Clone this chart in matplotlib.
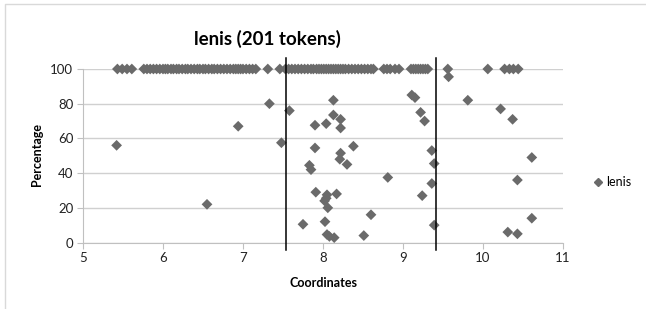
import matplotlib
matplotlib.use("Agg")
import matplotlib.pyplot as plt
from matplotlib.lines import Line2D

# ---- data ----
x_full = [5.43, 5.49, 5.55, 5.61,
          5.76, 5.80, 5.84, 5.88, 5.92, 5.96, 6.00, 6.03, 6.06, 6.10, 6.13, 6.17,
          6.20, 6.24, 6.28, 6.31, 6.35, 6.39, 6.43, 6.46, 6.50, 6.53, 6.57, 6.61,
          6.64, 6.68, 6.72, 6.76, 6.80, 6.84, 6.88, 6.91, 6.94, 6.97, 7.00, 7.04,
          7.08, 7.12, 7.16,
          7.31, 7.46,
          7.53, 7.57, 7.61, 7.65, 7.69, 7.73, 7.77, 7.81, 7.85, 7.88, 7.92, 7.95,
          7.98, 8.01, 8.04, 8.07, 8.10, 8.13, 8.16, 8.19, 8.22, 8.25, 8.28, 8.32,
          8.36, 8.40, 8.44, 8.48, 8.52, 8.56, 8.60, 8.63,
          8.76, 8.80, 8.84, 8.90, 8.95,
          9.10, 9.13, 9.16, 9.19, 9.22, 9.25, 9.28, 9.31,
          9.56, 10.06, 10.27, 10.33, 10.38, 10.44]
y_full = [100] * len(x_full)

x_part = [5.42, 6.55, 6.94, 7.33, 7.48, 7.58, 7.75, 7.83, 7.85, 7.90, 7.90, 7.91,
          8.02, 8.025, 8.04, 8.05, 8.04, 8.06, 8.05, 8.08, 8.13, 8.13, 8.14, 8.17,
          8.22, 8.22, 8.22, 8.21, 8.30, 8.38, 8.51, 8.60, 8.81, 9.11, 9.15, 9.22,
          9.27, 9.24, 9.36, 9.39, 9.36, 9.39, 9.57, 9.81, 10.22, 10.37, 10.61,
          10.43, 10.61, 10.31, 10.43]
y_part = [56, 22, 67, 80, 57.5, 76, 10.5, 44.5, 42, 67.6, 54.5, 29,
          24, 12, 68.5, 27.5, 25.5, 20, 4.6, 3.5, 82, 73.5, 2.8, 28,
          71, 66, 51.5, 48, 45, 55.5, 4, 16, 37.5, 85, 83.5, 75,
          70, 27, 53, 45.5, 34, 10, 95.5, 82, 77, 71, 49,
          36, 14, 6, 5]

boundaries = [7.54, 9.41]
x_ticks = [5, 6, 7, 8, 9, 10, 11]
y_ticks = [0, 20, 40, 60, 80, 100]
series_name = "lenis"
title = "lenis (201 tokens)"

FONT = ["Lato", "DejaVu Sans"]
plt.rcParams["font.family"] = FONT

W, H = 646, 309
fig = plt.figure(figsize=(W / 100, H / 100), dpi=100)
fig.patch.set_facecolor("white")

L, R, T, B = 83, 563, 69, 242.5
ax = fig.add_axes([L / W, 1 - B / H, (R - L) / W, (B - T) / H])

xs = x_full + x_part
ys = y_full + y_part
mcol = "#6a6a6a"
ax.scatter(xs, ys, marker="D", s=30, color=mcol, edgecolors="none", zorder=3, clip_on=False)

ax.set_xlim(5, 11)
ax.set_ylim(0, 100)
ax.set_xticks(x_ticks)
ax.set_yticks(y_ticks)
ax.set_xticklabels([str(v) for v in x_ticks])
ax.set_yticklabels([str(v) for v in y_ticks])
ax.yaxis.grid(True, color="#d0d0d0", linewidth=1)
ax.set_axisbelow(True)
for s in ["top", "right"]:
    ax.spines[s].set_visible(False)
ax.spines["left"].set_color("#c0c0c0")
ax.spines["bottom"].set_color("#c0c0c0")
ax.tick_params(axis="both", direction="out", length=4, color="#c0c0c0",
               labelsize=9.5, labelcolor="#222222", pad=3)

# vertical boundary lines extending beyond plot area
ylo = (B - 250) / ((B - T) / 100)
yhi = (B - 58) / ((B - T) / 100)
for bx in boundaries:
    ax.plot([bx, bx], [ylo, yhi], color="black", linewidth=1.1, clip_on=False, zorder=4)

fig.text(267 / W, 1 - 39 / H, title, ha="center", va="center",
         fontsize=13.5, fontweight="bold", color="#000000")
fig.text(323 / W, 1 - 283 / H, "Coordinates", ha="center", va="center",
         fontsize=9, fontweight="bold")
fig.text(37 / W, 1 - 155 / H, "Percentage", ha="center", va="center",
         fontsize=9, fontweight="bold", rotation=90)

# legend
fig.lines.append(Line2D([598 / W], [1 - 182 / H], marker="D", markersize=4.5,
                        color=mcol, linestyle="none", transform=fig.transFigure))
fig.text(606 / W, 1 - 182 / H, series_name, ha="left", va="center", fontsize=9)

# chart border
fig.lines.append(Line2D([5 / W, 5 / W, 1.0], [0.0, 1 - 4 / H, 1 - 4 / H],
                        color="#d9d9d9", linewidth=1, transform=fig.transFigure))

fig.savefig("out.png", dpi=100, facecolor="white")
